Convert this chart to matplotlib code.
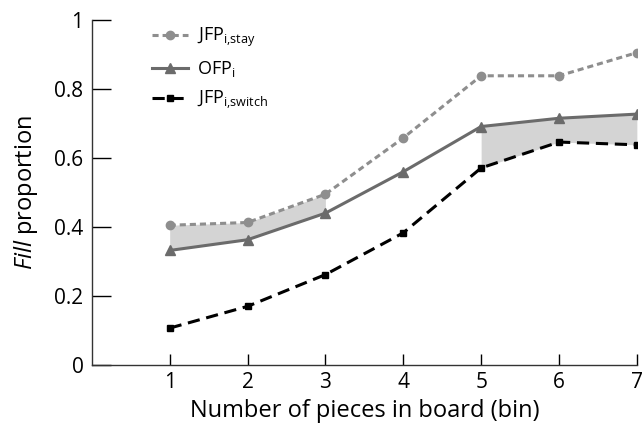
import numpy as np
import matplotlib.pyplot as plt
from matplotlib.lines import Line2D

plt.rcParams['font.family'] = ['Open Sans', 'DejaVu Sans']
plt.rcParams['mathtext.fontset'] = 'custom'
plt.rcParams['mathtext.rm'] = 'Open Sans'
plt.rcParams['mathtext.it'] = 'Open Sans:italic'

# fill proportions per board bin
bins = [1, 2, 3, 4, 5, 6, 7]
jfp_stay = [0.405, 0.413, 0.495, 0.658, 0.838, 0.838, 0.905]
ofp = [0.332, 0.363, 0.440, 0.560, 0.691, 0.715, 0.727]
jfp_switch = [0.107, 0.170, 0.262, 0.383, 0.571, 0.646, 0.638]
xticks = [1, 2, 3, 4, 5, 6, 7]
yticks = [0, 0.2, 0.4, 0.6, 0.8, 1]
ytick_labels = ['0', '0.2', '0.4', '0.6', '0.8', '1']

x = np.array(bins)
stay = np.array(jfp_stay)
obs = np.array(ofp)
switch = np.array(jfp_switch)

fig = plt.figure(figsize=(6.42, 4.32), dpi=100)
ax = fig.add_axes([0.143, 0.155, 0.849, 0.799])

# shaded gaps: stay vs observed for early bins, observed vs switch for late bins
early = x <= 3
late = x >= 5
ax.fill_between(x[early], obs[early], stay[early], color='#d4d4d4', lw=0, zorder=1)
ax.fill_between(x[late], switch[late], obs[late], color='#d4d4d4', lw=0, zorder=1)

ax.plot(x, stay, color='#8e8e8e', ls=(0, (2, 1.3)), lw=2.2, marker='o', ms=6, zorder=3)
ax.plot(x, obs, color='#6b6b6b', ls='-', lw=2.2, marker='^', ms=7, zorder=3)
ax.plot(x, switch, color='black', ls=(0, (4, 2.2)), lw=2.2, marker='s', ms=5, zorder=3)

ax.set_xlim(0, 7)
ax.set_ylim(0, 1)
ax.set_xticks(xticks)
ax.set_yticks(yticks)
ax.set_yticklabels(ytick_labels)
ax.tick_params(axis='x', direction='in', length=8, width=1, labelsize=15, pad=5)
ax.tick_params(axis='y', direction='in', length=14, width=1, labelsize=15, pad=6)
for s in ['top', 'right']:
    ax.spines[s].set_visible(False)
for s in ['left', 'bottom']:
    ax.spines[s].set_linewidth(1)
    ax.spines[s].set_color('#333333')

ax.set_xlabel('Number of pieces in board (bin)', fontsize=17, labelpad=4)
ax.set_ylabel(r'$\it{Fill}$ proportion', fontsize=17, labelpad=10)

handles = [
    Line2D([], [], color='#8e8e8e', ls=(0, (2, 1.3)), lw=2.2, marker='o', ms=6),
    Line2D([], [], color='#6b6b6b', ls='-', lw=2.2, marker='^', ms=7),
    Line2D([], [], color='black', ls=(0, (4, 2.2)), lw=2.2, marker='s', ms=5),
]
labels = [r'JFP$_{\mathrm{i{,}stay}}$', r'OFP$_{\mathrm{i}}$', r'JFP$_{\mathrm{i{,}switch}}$']
ax.legend(handles, labels, loc='upper left', bbox_to_anchor=(0.08, 1.03), frameon=False,
          fontsize=13, handlelength=2.0, handletextpad=0.5, labelspacing=0.55)

fig.savefig('out.png', dpi=100)
